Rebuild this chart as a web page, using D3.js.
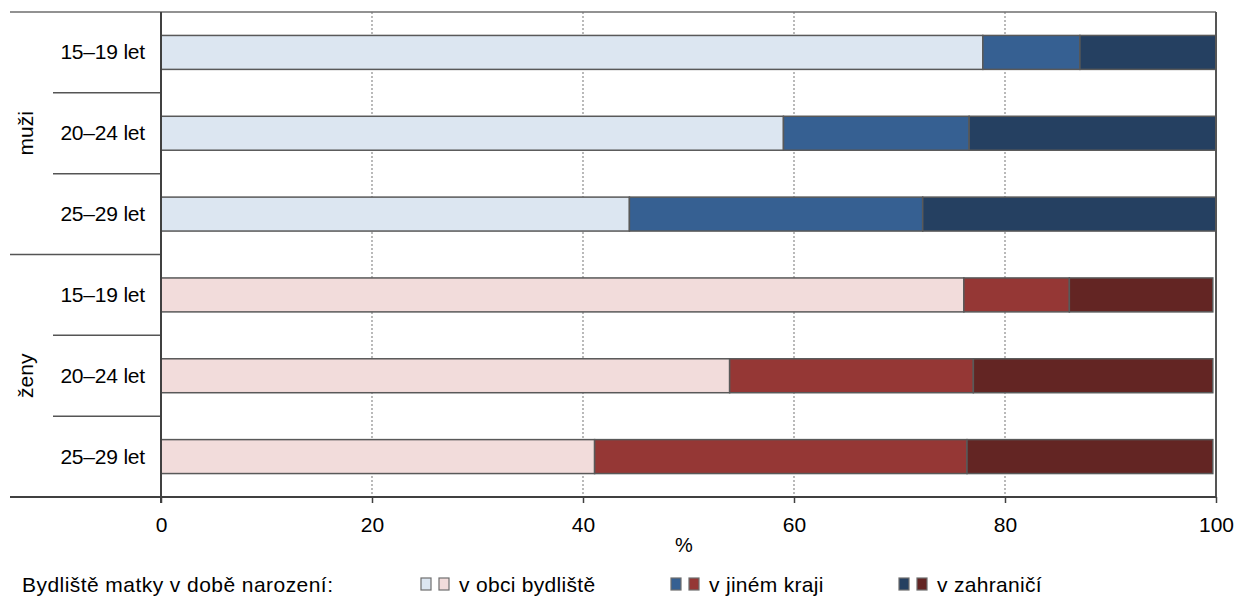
<!DOCTYPE html>
<html>
<head>
<meta charset="utf-8">
<script src="https://cdn.jsdelivr.net/npm/d3@7"></script>
<style>
    body { margin: 0; background: #fff; }
    text { font-family: "Liberation Sans", Arial, sans-serif; fill: #000; }
</style>
</head>
<body>
<div id="chart"></div>
<script>
// data (%)
const groups = ["muži", "ženy"]
const ages = ["15–19 let", "20–24 let", "25–29 let"]
const seriesNames = ["v obci bydliště", "v jiném kraji", "v zahraničí"]
const muziObec = [77.9, 59.0, 44.4]
const muziKraj = [9.2, 17.6, 27.8]
const muziZahr = [12.9, 23.4, 27.8]
const zenyObec = [76.1, 53.9, 41.1]
const zenyKraj = [10.0, 23.1, 35.3]
const zenyZahr = [13.6, 22.7, 23.3]
const xTicks = [0, 20, 40, 60, 80, 100]
const legendTitle = "Bydliště matky v době narození:"

const colors = {
    "muži": ["#dce6f1", "#366092", "#254061"],
    "ženy": ["#f2dcdb", "#953735", "#632523"]
}

const width = 1235, height = 598
const margin = { top: 12, right: 19, bottom: 101, left: 161 }

const rows = []
groups.forEach((g, gi) => {
    const s = gi == 0 ? [muziObec, muziKraj, muziZahr] : [zenyObec, zenyKraj, zenyZahr]
    ages.forEach((a, ai) => {
        let x0 = 0
        const segs = s.map((arr, si) => {
            const seg = { group: g, key: si, x0: x0, x1: x0 + arr[ai] }
            x0 += arr[ai]
            return seg
        })
        rows.push({ id: g + "|" + a, group: g, age: a, segs: segs })
    })
})

const svg = d3.select("#chart").append("svg")
    .attr("width", width)
    .attr("height", height)

const x = d3.scaleLinear().domain([0, 100]).range([margin.left, width - margin.right])
const y = d3.scaleBand().domain(rows.map(d => d.id))
    .range([margin.top, height - margin.bottom])
    .paddingInner(0.58).paddingOuter(0.29)
const step = y.step()
const rowTop = id => margin.top + rows.findIndex(r => r.id == id) * step

// dotted grid
svg.append("g").selectAll("line").data(xTicks.filter(t => t > 0 && t < 100)).enter()
    .append("line")
    .attr("x1", d => x(d)).attr("x2", d => x(d))
    .attr("y1", margin.top).attr("y2", height - margin.bottom)
    .attr("stroke", "#8c8c8c")
    .attr("stroke-width", 1.2)
    .attr("stroke-dasharray", "2,2")

// bars
const rowG = svg.append("g").selectAll("g").data(rows).enter().append("g")
rowG.selectAll("rect").data(d => d.segs).enter().append("rect")
    .attr("x", d => x(d.x0))
    .attr("width", d => x(d.x1) - x(d.x0))
    .attr("y", function (d) { return y(d3.select(this.parentNode).datum().id) })
    .attr("height", y.bandwidth())
    .attr("fill", d => colors[d.group][d.key])
    .attr("stroke", "#595959")
    .attr("stroke-width", 1.5)

// frame: top and right border
svg.append("line")
    .attr("x1", 10).attr("x2", x(100))
    .attr("y1", margin.top).attr("y2", margin.top)
    .attr("stroke", "#6e6e6e").attr("stroke-width", 1.5)
svg.append("line")
    .attr("x1", x(100)).attr("x2", x(100))
    .attr("y1", margin.top).attr("y2", height - margin.bottom)
    .attr("stroke", "#555").attr("stroke-width", 2)

// category separators on the left
const seps = svg.append("g")
rows.forEach((r, i) => {
    if (i == 0) return
    const yy = rowTop(r.id)
    const isGroup = i % ages.length == 0
    seps.append("line")
        .attr("x1", isGroup ? 10 : 53).attr("x2", margin.left)
        .attr("y1", yy).attr("y2", yy)
        .attr("stroke", "#555").attr("stroke-width", 1.5)
})

// age labels
svg.append("g").selectAll("text").data(rows).enter().append("text")
    .attr("x", 145)
    .attr("y", d => y(d.id) + y.bandwidth() / 2 + 7)
    .attr("text-anchor", "end")
    .attr("font-size", 21)
    .attr("letter-spacing", "-0.2")
    .text(d => d.age)

// group labels (rotated)
groups.forEach((g, gi) => {
    const yc = margin.top + (gi * ages.length + ages.length / 2) * step
    svg.append("text")
        .attr("transform", `translate(33,${yc}) rotate(-90)`)
        .attr("text-anchor", "middle")
        .attr("font-size", 21)
        .text(g)
})

// left axis and bottom axis
svg.append("line")
    .attr("x1", margin.left).attr("x2", margin.left)
    .attr("y1", margin.top).attr("y2", height - margin.bottom + 6)
    .attr("stroke", "#404040").attr("stroke-width", 2)

const xAxis = svg.append("g")
    .attr("transform", `translate(0,${height - margin.bottom})`)
    .call(d3.axisBottom(x).tickValues(xTicks).tickSize(6).tickPadding(14))
xAxis.select(".domain").remove()
xAxis.selectAll(".tick line").attr("stroke", "#404040").attr("stroke-width", 1.5)
xAxis.selectAll(".tick text")
    .attr("font-size", 21)
    .attr("font-family", "Liberation Sans, Arial, sans-serif")
    .attr("fill", "#000")
svg.append("line")
    .attr("x1", 10).attr("x2", x(100))
    .attr("y1", height - margin.bottom).attr("y2", height - margin.bottom)
    .attr("stroke", "#404040").attr("stroke-width", 2)

svg.append("text")
    .attr("x", 684).attr("y", 552)
    .attr("text-anchor", "middle")
    .attr("font-size", 20)
    .text("%")

// legend
const legY = 592
svg.append("text")
    .attr("x", 22).attr("y", legY)
    .attr("font-size", 21)
    .attr("textLength", 311)
    .text(legendTitle)

const legX = [421, 671, 899]
const legend = svg.append("g").selectAll("g").data(seriesNames).enter().append("g")
    .attr("transform", (d, i) => `translate(${legX[i]},0)`)
legend.append("rect")
    .attr("x", 0).attr("y", 578).attr("width", 10).attr("height", 12)
    .attr("fill", (d, i) => colors["muži"][i])
    .attr("stroke", "#6e6e6e").attr("stroke-width", 1.2)
legend.append("rect")
    .attr("x", 18).attr("y", 578).attr("width", 10).attr("height", 12)
    .attr("fill", (d, i) => colors["ženy"][i])
    .attr("stroke", "#6e6e6e").attr("stroke-width", 1.2)
legend.append("text")
    .attr("x", 38).attr("y", legY)
    .attr("font-size", 21)
    .attr("letter-spacing", "0.3")
    .text(d => d)
</script>
</body>
</html>
